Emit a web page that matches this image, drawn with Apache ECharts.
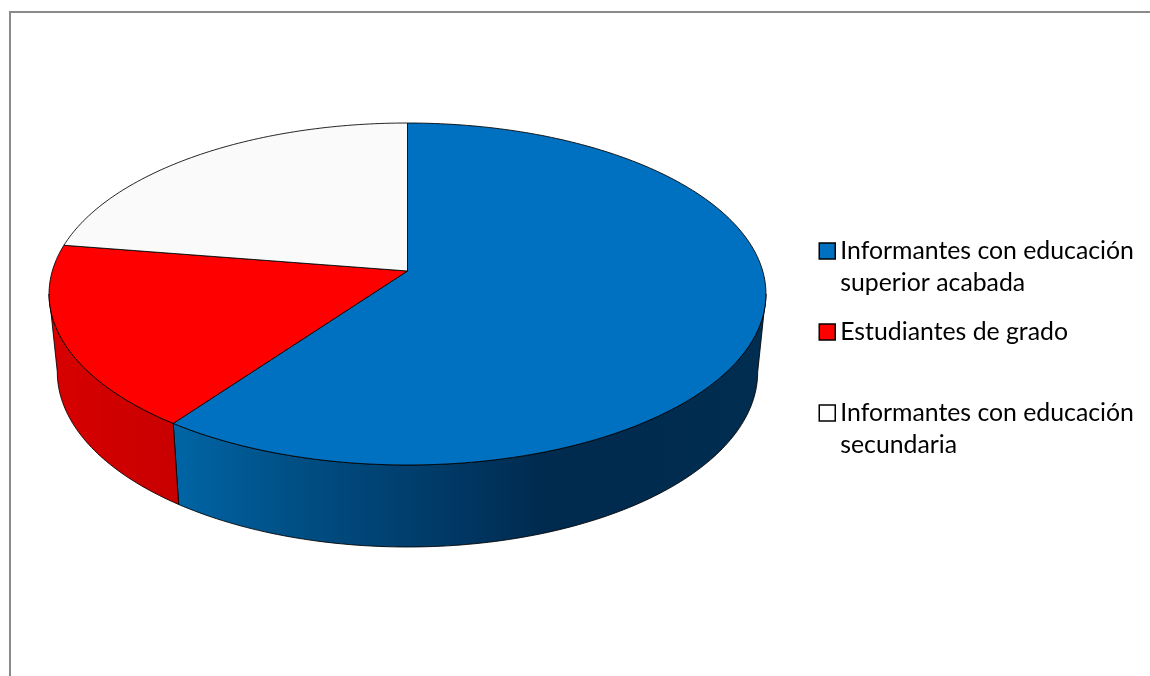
<!DOCTYPE html>
<html>
<head>
<meta charset="utf-8">
<title>Informantes</title>
<style>html,body{margin:0;padding:0;background:#fff}#main{width:1150px;height:676px}</style>
<script src="https://cdn.jsdelivr.net/npm/echarts@6/dist/echarts.min.js"></script>
</head>
<body>
<div id="main"></div>
<script>
// Chart data: share of each informant group, in percent, clockwise from twelve o'clock
const categories = [
  'Informantes con educación\nsuperior acabada',
  'Estudiantes de grado',
  'Informantes con educación\nsecundaria'
];
const shares = [60, 17.5, 22.5];
const topColors = ['#0070c0', '#ff0000', '#fafafa'];
const markerColors = ['#0070c0', '#ff0000', '#ffffff'];

// Perspective disc: the top face and the lower rim, each with its own projected centre
const topRing = { x: 407.5, y: 271, a: 355.2, b: 167.9 };
const lowRing = { x: 407.5, y: 348.5, a: 347, b: 171.8 };
const tilt = 0.1345;

function ringPoint(ring, deg) {
  const t = deg * Math.PI / 180;
  const u = Math.sin(t), v = -Math.cos(t);
  const w = 1 - tilt * v;
  return [ring.x + ring.a * u / w, ring.y + ring.b * v / w];
}
function arc(ring, from, to) {
  const pts = [];
  const n = Math.max(1, Math.ceil(Math.abs(to - from)));
  for (let i = 0; i <= n; i++) pts.push(ringPoint(ring, from + (to - from) * i / n));
  return pts;
}

// Rim shading across the page width
const rimFills = [
  new echarts.graphic.LinearGradient(175, 0, 766, 0, [
    { offset: 0, color: '#0065a5' },
    { offset: 0.2, color: '#004f85' },
    { offset: 0.45, color: '#003a67' },
    { offset: 0.63, color: '#002a4e' },
    { offset: 1, color: '#002d50' }
  ], true),
  new echarts.graphic.LinearGradient(49, 0, 178, 0, [
    { offset: 0, color: '#d80000' },
    { offset: 1, color: '#c80000' }
  ], true),
  '#ffffff'
];

// The rim is only visible between the two silhouette angles
const silhouette = Math.acos(-tilt) * 180 / Math.PI;
const edgeStyle = { stroke: 'rgba(0,0,0,0.85)', lineWidth: 1, lineJoin: 'round' };

const total = shares.reduce((s, v) => s + v, 0);
const starts = shares.map((_, i) => shares.slice(0, i).reduce((s, v) => s + v, 0));

function sliceRenderer(index) {
  return function (params, api) {
    const from = starts[index] / total * 360;
    const to = from + api.value(0) / total * 360;
    const children = [];
    const rimFrom = Math.max(from, silhouette);
    const rimTo = Math.min(to, 360 - silhouette);
    if (rimTo > rimFrom) {
      children.push({
        type: 'polygon',
        shape: { points: arc(topRing, rimFrom, rimTo).concat(arc(lowRing, rimTo, rimFrom)) },
        style: Object.assign({ fill: rimFills[index] }, edgeStyle)
      });
    }
    children.push({
      type: 'polygon',
      shape: { points: [[topRing.x, topRing.y]].concat(arc(topRing, from, to)) },
      style: Object.assign({ fill: topColors[index] }, edgeStyle)
    });
    return { type: 'group', children };
  };
}

// Two-line labels get an empty first line so the marker sits beside their first line
const legendTops = [203, 316, 365];

const option = {
  animation: false,
  backgroundColor: '#ffffff',
  legend: categories.map((name, i) => ({
    data: [{
      name,
      icon: 'rect',
      itemStyle: { color: markerColors[i], borderColor: '#000000', borderWidth: 1.5 }
    }],
    formatter: (label) => (label.indexOf('\n') >= 0 ? '\n' + label : label),
    orient: 'vertical',
    left: 818.5,
    top: legendTops[i],
    padding: 0,
    itemWidth: 16,
    itemHeight: 16,
    selectedMode: false,
    textStyle: {
      fontFamily: 'Lato',
      fontSize: 24.8,
      lineHeight: 32,
      color: '#000000'
    }
  })),
  graphic: [
    { type: 'line', shape: { x1: 9, y1: 12, x2: 1150, y2: 12 }, style: { stroke: '#8a8a8a', lineWidth: 2 } },
    { type: 'line', shape: { x1: 10, y1: 11, x2: 10, y2: 676 }, style: { stroke: '#8a8a8a', lineWidth: 2 } }
  ],
  series: categories.map((name, i) => ({
    type: 'custom',
    name,
    coordinateSystem: 'none',
    silent: true,
    renderItem: sliceRenderer(i),
    data: [[shares[i]]]
  }))
};

echarts.init(document.getElementById('main'), null, { renderer: 'canvas' }).setOption(option);
</script>
</body>
</html>
